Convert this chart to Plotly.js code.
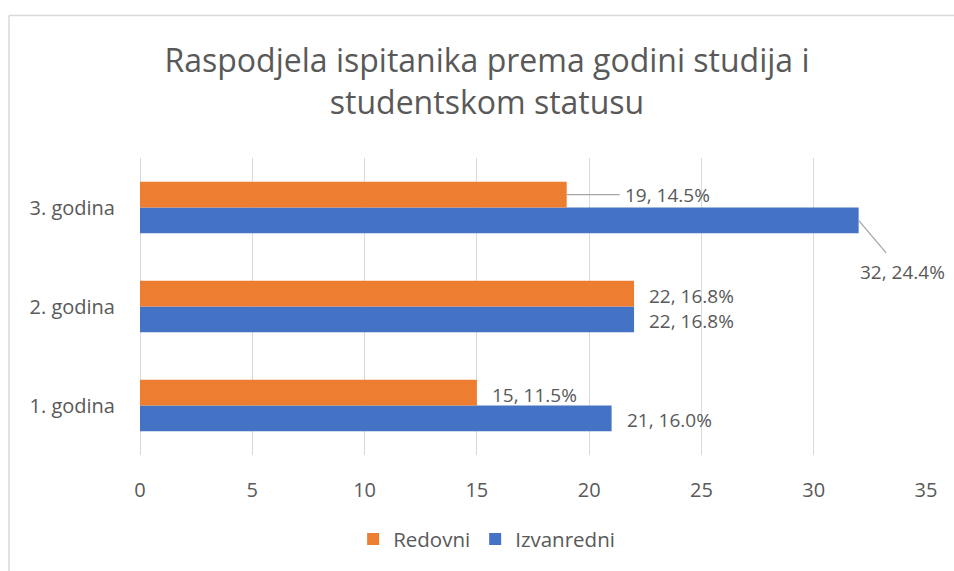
<!DOCTYPE html>
<html>
<head>
<meta charset="utf-8">
<script src="https://cdn.plot.ly/plotly-3.0.1.min.js"></script>
<style>html,body{margin:0;padding:0;background:#fff;}#chart{width:954px;height:571px;}</style>
</head>
<body>
<div id="chart"></div>
<script>
const categories = ['1. godina', '2. godina', '3. godina'];
const redovni = [15, 22, 19];
const redovniPct = [11.5, 16.8, 14.5];
const izvanredni = [21, 22, 32];
const izvanredniPct = [16.0, 16.8, 24.4];
const xTicks = [0, 5, 10, 15, 20, 25, 30, 35];

const FONT = 'Open Sans, Calibri, sans-serif';
const TXT = '#595959';
const ORANGE = '#ED7D31';
const BLUE = '#4472C4';

const traces = [
  {type: 'bar', orientation: 'h', name: 'Izvanredni', y: categories, x: izvanredni,
   marker: {color: BLUE}, legendrank: 2, hoverinfo: 'none'},
  {type: 'bar', orientation: 'h', name: 'Redovni', y: categories, x: redovni,
   marker: {color: ORANGE}, legendrank: 1, hoverinfo: 'none'}
];

const lbl = (v, p) => v + ', ' + p.toFixed(1) + '%';
const LFONT = {family: FONT, size: 19, color: TXT};
const annotations = [];
const off = 0.13;
categories.forEach((c, i) => {
  const last = i === categories.length - 1;
  if (!last) {
    annotations.push({x: redovni[i], y: i + off, xref: 'x', yref: 'y', text: lbl(redovni[i], redovniPct[i]),
      showarrow: false, xanchor: 'left', yanchor: 'middle', xshift: 14, yshift: -2, borderpad: 0, font: LFONT});
    annotations.push({x: izvanredni[i], y: i - off, xref: 'x', yref: 'y', text: lbl(izvanredni[i], izvanredniPct[i]),
      showarrow: false, xanchor: 'left', yanchor: 'middle', xshift: 14, yshift: -2, borderpad: 0, font: LFONT});
  } else {
    annotations.push({x: redovni[i], y: i + off, xref: 'x', yref: 'y', text: lbl(redovni[i], redovniPct[i]),
      showarrow: true, arrowhead: 0, arrowwidth: 1.3, arrowcolor: '#a6a6a6', ax: 101, ay: 0,
      standoff: 0, borderpad: 5, font: LFONT});
    annotations.push({x: izvanredni[i], y: i - off, xref: 'x', yref: 'y', text: lbl(izvanredni[i], izvanredniPct[i]),
      showarrow: true, arrowhead: 0, arrowwidth: 1.3, arrowcolor: '#a6a6a6', ax: 44, ay: 52,
      standoff: 0, borderpad: 6, font: LFONT});
  }
});

const layout = {
  width: 954, height: 571,
  margin: {l: 140, r: 28, t: 158, b: 113, pad: 0},
  paper_bgcolor: '#ffffff', plot_bgcolor: '#ffffff',
  font: {family: FONT, color: TXT, size: 20},
  title: {text: 'Raspodjela ispitanika prema godini studija i<br>studentskom statusu',
    x: 0.5105, xanchor: 'center', y: 0.874, yanchor: 'middle', yref: 'container',
    font: {family: FONT, size: 32, color: TXT}},
  barmode: 'group', bargap: 0.48, bargroupgap: 0,
  xaxis: {range: [0, 35], tickvals: xTicks, ticktext: xTicks.map(String),
    showgrid: true, gridcolor: '#d9d9d9', gridwidth: 1, zeroline: true, zerolinecolor: '#d9d9d9', zerolinewidth: 1,
    showline: false, ticks: '', ticklabelstandoff: 21, fixedrange: true,
    tickfont: {family: FONT, size: 20, color: TXT}},
  yaxis: {type: 'category', categoryorder: 'array', categoryarray: categories,
    showgrid: false, zeroline: false, showline: false, ticks: '', ticklabelstandoff: 24, fixedrange: true,
    tickfont: {family: FONT, size: 20, color: TXT}},
  showlegend: true,
  legend: {orientation: 'h', x: 0.441, xanchor: 'center', y: -0.283, yanchor: 'middle',
    font: {family: FONT, size: 20.5, color: TXT}, itemwidth: 30, tracegroupgap: 0, itemclick: false},
  annotations: annotations,
  shapes: [
    {type: 'line', xref: 'paper', yref: 'paper', x0: -0.1667, x1: 1.2, y0: 1.48, y1: 1.48, line: {color: '#d9d9d9', width: 1.5}},
    {type: 'line', xref: 'paper', yref: 'paper', x0: -0.1667, x1: -0.1667, y0: 1.48, y1: -0.6, line: {color: '#d9d9d9', width: 1.5}}
  ]
};

Plotly.newPlot('chart', traces, layout, {staticPlot: true, displayModeBar: false});
</script>
</body>
</html>
